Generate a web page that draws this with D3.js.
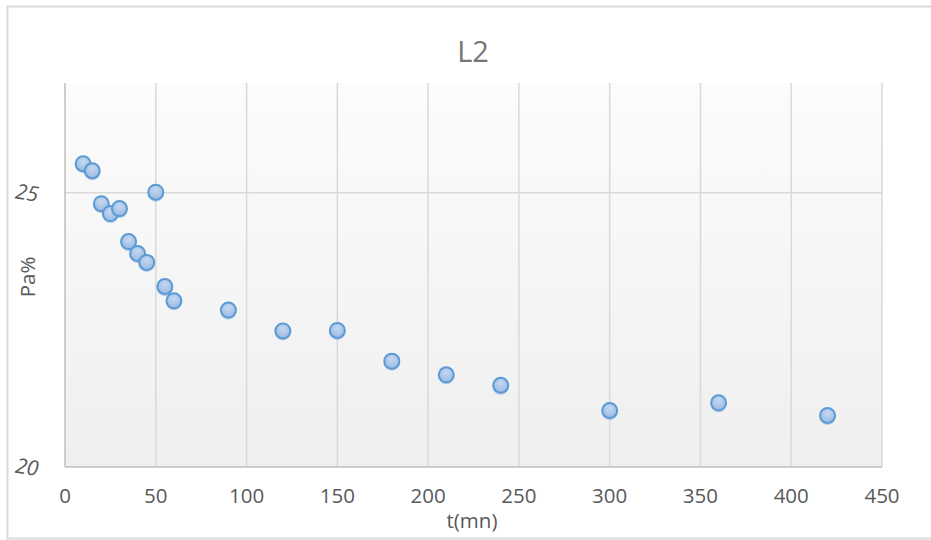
<!DOCTYPE html>
<html><head><meta charset="utf-8">
<script src="https://cdn.jsdelivr.net/npm/d3@7"></script>
<style>html,body{margin:0;padding:0;background:#fff;}svg{display:block;}</style>
</head><body>
<script>
const title = "L2";
const xLabel = "t(mn)";
const yLabel = "Pa%";
const tValues = [10, 15, 20, 25, 30, 35, 40, 45, 50, 55, 60, 90, 120, 150, 180, 210, 240, 300, 360, 420];
const paValues = [25.53, 25.40, 24.80, 24.62, 24.71, 24.11, 23.89, 23.73, 25.01, 23.29, 23.03, 22.86, 22.48, 22.49, 21.93, 21.68, 21.49, 21.03, 21.17, 20.94];
const xTicks = [0, 50, 100, 150, 200, 250, 300, 350, 400, 450];
const yTicks = [20, 25];

const W = 931, H = 540;
const svg = d3.select("body").append("svg").attr("width", W).attr("height", H);
const defs = svg.append("defs");
const bg = defs.append("linearGradient").attr("id","bg").attr("x1",0).attr("y1",0).attr("x2",0).attr("y2",1);
bg.append("stop").attr("offset","0%").attr("stop-color","#fcfcfc");
bg.append("stop").attr("offset","100%").attr("stop-color","#efefef");
const mg = defs.append("radialGradient").attr("id","mk").attr("cx","50%").attr("cy","35%").attr("r","65%");
mg.append("stop").attr("offset","0%").attr("stop-color","#c6d8f1");
mg.append("stop").attr("offset","100%").attr("stop-color","#9ab9e2");

svg.append("rect").attr("x",7.5).attr("y",6.5).attr("width",940).attr("height",532)
  .attr("fill","#fff").attr("stroke","#d9d9d9").attr("stroke-width",2);

const x = d3.scaleLinear().domain([0, 450]).range([65, 882]);
const y = d3.scaleLinear().domain([20, 27]).range([467, 83]);

svg.append("rect").attr("x",x(0)).attr("y",y(27)).attr("width",x(450)-x(0)).attr("height",y(20)-y(27)).attr("fill","url(#bg)");

const g = svg.append("g");
g.selectAll("line.vg").data(xTicks.slice(1)).join("line").attr("class","vg")
  .attr("x1",d=>x(d)).attr("x2",d=>x(d)).attr("y1",y(27)).attr("y2",y(20))
  .attr("stroke","#d9d9d9").attr("stroke-width",1.5);
g.selectAll("line.hg").data(yTicks.slice(1)).join("line").attr("class","hg")
  .attr("x1",x(0)).attr("x2",x(450)).attr("y1",d=>y(d)).attr("y2",d=>y(d))
  .attr("stroke","#d9d9d9").attr("stroke-width",1.5);
g.append("line").attr("x1",x(0)).attr("x2",x(0)).attr("y1",y(27)).attr("y2",y(20)).attr("stroke","#bfbfbf").attr("stroke-width",1.5);
g.append("line").attr("x1",x(0)).attr("x2",x(450)).attr("y1",y(20)).attr("y2",y(20)).attr("stroke","#bfbfbf").attr("stroke-width",1.5);

const font = "'Open Sans', 'Liberation Sans', sans-serif";
svg.selectAll("text.xt").data(xTicks).join("text").attr("class","xt")
  .attr("x",d=>x(d)).attr("y",503).attr("text-anchor","middle")
  .attr("font-family",font).attr("font-size",20.5).attr("fill","#595959").text(d=>d);
svg.selectAll("text.yt").data(yTicks).join("text").attr("class","yt")
  .attr("transform",d=>`translate(27,${y(d)}) rotate(9)`)
  .attr("text-anchor","middle").attr("dy","0.35em")
  .attr("font-family",font).attr("font-style","italic").attr("font-size",21).attr("fill","#595959").text(d=>d);

svg.append("text").attr("x",473).attr("y",62).attr("text-anchor","middle")
  .attr("font-family",font).attr("font-size",29).attr("fill","#757575").text(title);
svg.append("text").attr("x",472).attr("y",528).attr("text-anchor","middle")
  .attr("font-family",font).attr("font-size",20.5).attr("fill","#595959").text(xLabel);
svg.append("text").attr("transform","translate(35,277) rotate(-90)").attr("text-anchor","middle")
  .attr("font-family",font).attr("font-size",20.5).attr("fill","#595959").text(yLabel);

const pts = tValues.map((t,i)=>({t, v: paValues[i]}));
svg.selectAll("circle.sh").data(pts).join("circle").attr("class","sh")
  .attr("cx",d=>x(d.t)).attr("cy",d=>y(d.v)+1.5).attr("r",8).attr("fill","#7fa5d8").attr("opacity",0.55);
svg.selectAll("circle.pt").data(pts).join("circle").attr("class","pt")
  .attr("cx",d=>x(d.t)).attr("cy",d=>y(d.v)).attr("r",7.5)
  .attr("fill","url(#mk)").attr("stroke","#5b9bd5").attr("stroke-width",2);
</script>
</body></html>
